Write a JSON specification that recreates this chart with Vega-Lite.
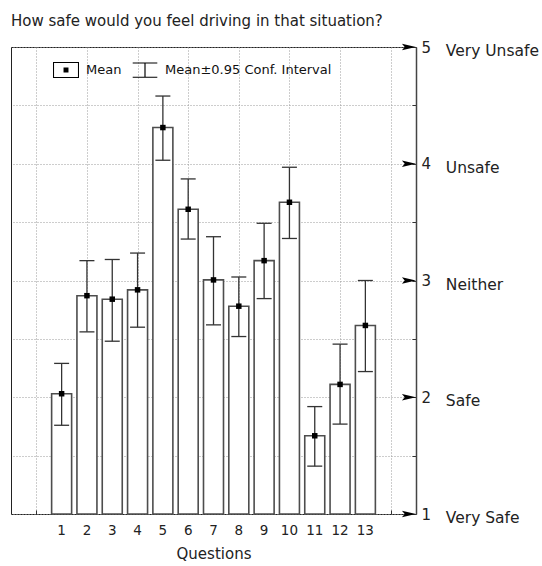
{
  "$schema": "https://vega.github.io/schema/vega-lite/v6.json",
  "autosize": {"type": "none"},
  "width": 405,
  "height": 467,
  "padding": {"left": 11, "top": 47, "right": 126, "bottom": 52},
  "title": {"text": "How safe would you feel driving in that situation?", "anchor": "start", "frame": "group", "font": "DejaVu Sans", "fontSize": 15, "fontWeight": "normal", "color": "#222", "offset": 11},
  "config": {"view": {"stroke": "#222", "strokeWidth": 1}, "font": "DejaVu Sans"},
  "datasets": {
    "q": [
      {"q": 1, "mean": 2.03, "lo": 1.76, "hi": 2.29},
      {"q": 2, "mean": 2.87, "lo": 2.56, "hi": 3.17},
      {"q": 3, "mean": 2.84, "lo": 2.48, "hi": 3.18},
      {"q": 4, "mean": 2.92, "lo": 2.60, "hi": 3.235},
      {"q": 5, "mean": 4.31, "lo": 4.03, "hi": 4.58},
      {"q": 6, "mean": 3.61, "lo": 3.355, "hi": 3.87},
      {"q": 7, "mean": 3.005, "lo": 2.62, "hi": 3.375},
      {"q": 8, "mean": 2.78, "lo": 2.52, "hi": 3.03},
      {"q": 9, "mean": 3.17, "lo": 2.845, "hi": 3.49},
      {"q": 10, "mean": 3.67, "lo": 3.36, "hi": 3.97},
      {"q": 11, "mean": 1.67, "lo": 1.41, "hi": 1.92},
      {"q": 12, "mean": 2.11, "lo": 1.77, "hi": 2.455},
      {"q": 13, "mean": 2.615, "lo": 2.22, "hi": 3.0}
    ],
    "levels": [
      {"level": 1, "word": "Very Safe"},
      {"level": 2, "word": "Safe"},
      {"level": 3, "word": "Neither"},
      {"level": 4, "word": "Unsafe"},
      {"level": 5, "word": "Very Unsafe"}
    ]
  },
  "layer": [
    {
      "data": {"name": "q"},
      "mark": {"type": "bar", "width": 20, "fill": "white", "stroke": "#4d4d4d", "strokeWidth": 1.6},
      "encoding": {
        "x": {"field": "q", "type": "quantitative", "scale": {"domain": [-1, 15], "nice": false, "zero": false, "padding": 0},
          "axis": {"orient": "bottom", "values": [0,1,2,3,4,5,6,7,8,9,10,11,12,13,14],
            "labels": false,
            "grid": true, "gridDash": [1, 2], "gridColor": "#9a9a9a", "domain": false,
            "tickSize": -4, "tickColor": "#333",
            "title": "Questions", "titleFontSize": 15, "titleFontWeight": "normal", "titleColor": "#222", "titlePadding": 32}},
        "y": {"field": "mean", "type": "quantitative", "scale": {"domain": [1, 5], "nice": false, "zero": false, "padding": 0},
          "axis": {"orient": "right", "values": [1,1.5,2,2.5,3,3.5,4,4.5,5],
            "labelExpr": "datum.value % 1 == 0 ? format(datum.value, 'd') : ''",
            "labelOverlap": false,
            "grid": true, "gridDash": [1, 2], "gridColor": "#9a9a9a",
            "domainColor": "#444", "domainWidth": 1.5, "tickSize": -4, "tickColor": "#333",
            "labelFontSize": 15, "labelColor": "#222", "labelPadding": 9, "title": null}},
        "y2": {"datum": 1}
      }
    },
    {
      "data": {"name": "q"},
      "mark": {"type": "rule", "color": "#333", "strokeWidth": 1.3},
      "encoding": {
        "x": {"field": "q", "type": "quantitative"},
        "y": {"field": "lo", "type": "quantitative"},
        "y2": {"field": "hi"}
      }
    },
    {
      "data": {"name": "q"},
      "mark": {"type": "tick", "orient": "horizontal", "size": 15, "thickness": 1.3, "color": "#333", "opacity": 1},
      "encoding": {
        "x": {"field": "q", "type": "quantitative"},
        "y": {"field": "lo", "type": "quantitative"}
      }
    },
    {
      "data": {"name": "q"},
      "mark": {"type": "tick", "orient": "horizontal", "size": 15, "thickness": 1.3, "color": "#333", "opacity": 1},
      "encoding": {
        "x": {"field": "q", "type": "quantitative"},
        "y": {"field": "hi", "type": "quantitative"}
      }
    },
    {
      "data": {"name": "q"},
      "mark": {"type": "point", "shape": "square", "filled": true, "color": "black", "size": 30, "opacity": 1},
      "encoding": {
        "x": {"field": "q", "type": "quantitative"},
        "y": {"field": "mean", "type": "quantitative"}
      }
    },
    {
      "data": {"name": "q"},
      "mark": {"type": "text", "align": "center", "baseline": "middle", "fontSize": 13.5, "dy": 17, "color": "#222", "font": "DejaVu Sans"},
      "encoding": {
        "x": {"field": "q", "type": "quantitative"},
        "y": {"datum": 1, "type": "quantitative"},
        "text": {"field": "q", "type": "quantitative", "format": "d"}
      }
    },
    {
      "data": {"name": "q"},
      "mark": {"type": "point", "filled": true, "color": "black", "opacity": 0},
      "encoding": {
        "x": {"field": "q", "type": "quantitative"},
        "y": {"field": "mean", "type": "quantitative"},
        "shape": {"datum": "Mean",
          "scale": {"domain": ["Mean", "Mean±0.95 Conf. Interval"],
            "range": [
              "M-1,-0.615L1,-0.615L1,0.615L-1,0.615Z M-0.92,-0.535L-0.92,0.535L0.92,0.535L0.92,-0.535Z M-0.19,-0.19L0.19,-0.19L0.19,0.19L-0.19,0.19Z",
              "M-0.946,-0.59L0.946,-0.59L0.946,-0.51L-0.946,-0.51Z M-0.045,-0.51L0.045,-0.51L0.045,0.51L-0.045,0.51Z M-0.946,0.51L0.946,0.51L0.946,0.59L-0.946,0.59Z"
            ]},
          "legend": {"orient": "none", "legendX": 42, "legendY": 10, "direction": "horizontal", "title": null,
            "symbolSize": 676, "symbolFillColor": "black", "symbolStrokeColor": "black", "symbolStrokeWidth": 0, "symbolOpacity": 1,
            "labelFont": "DejaVu Sans", "labelFontSize": 13, "labelColor": "#111", "labelOffset": 7, "labelLimit": 0, "columnPadding": 10, "padding": 0}}
      }
    },
    {
      "data": {"name": "levels"},
      "mark": {"type": "point", "shape": "M-1,-0.45L1,0L-1,0.45L-0.6,0Z", "filled": true, "color": "black", "size": 196, "opacity": 1},
      "encoding": {
        "x": {"datum": 14.72, "type": "quantitative"},
        "y": {"field": "level", "type": "quantitative"}
      }
    },
    {
      "data": {"name": "levels"},
      "mark": {"type": "text", "align": "left", "baseline": "middle", "fontSize": 15.5, "dy": 4, "color": "#222", "font": "DejaVu Sans"},
      "encoding": {
        "x": {"datum": 16.18, "type": "quantitative"},
        "y": {"field": "level", "type": "quantitative"},
        "text": {"field": "word"}
      }
    }
  ]
}
